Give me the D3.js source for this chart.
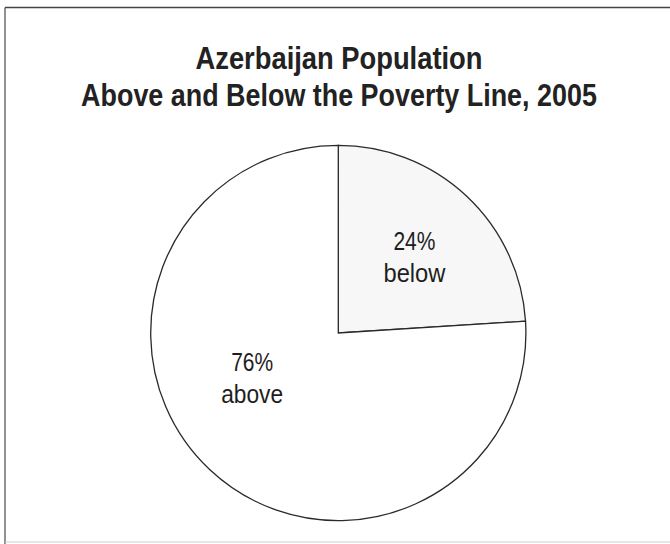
<!DOCTYPE html>
<html>
<head>
<meta charset="utf-8">
<script src="https://cdn.jsdelivr.net/npm/d3@7"></script>
<style>
  html, body { margin: 0; padding: 0; background: #fff; }
  svg { display: block; }
</style>
</head>
<body>
<svg id="chart" width="670" height="544"></svg>
<script>
// ---- data ----
const titleLines = ["Azerbaijan Population", "Above and Below the Poverty Line, 2005"];
const categories = ["below", "above"];
const values = [24, 76];
const percentLabels = ["24%", "76%"];

// ---- layout ----
const W = 670, H = 544;
const cx = 338.3, cy = 333, R = 187.6;
const labelR = 101;
const labelShift = { below: [7, 7], above: [-17, -20] };
const fills = { below: "#f7f7f7", above: "#ffffff" };

const svg = d3.select("#chart");
svg.append("rect").attr("width", W).attr("height", H).attr("fill", "#fff");

// frame
svg.append("line").attr("x1", 5).attr("x2", W).attr("y1", 7.5).attr("y2", 7.5)
  .attr("stroke", "#444").attr("stroke-width", 1.6);
svg.append("line").attr("x1", 5).attr("x2", 5).attr("y1", 7.5).attr("y2", H)
  .attr("stroke", "#555").attr("stroke-width", 1.3);
svg.append("line").attr("x1", 5).attr("x2", W).attr("y1", 542).attr("y2", 542)
  .attr("stroke", "#ccc").attr("stroke-width", 1);

// condensed text helper: horizontally scale a text to a target width
function condense(sel, targetWidth) {
  sel.each(function(d, i) {
    const t = d3.select(this);
    const w = this.getComputedTextLength();
    const tw = typeof targetWidth === "function" ? targetWidth(d, i) : targetWidth;
    const k = Math.min(1, tw / w);
    const x = +t.attr("data-x"), y = +t.attr("data-y");
    t.attr("x", 0).attr("y", 0)
      .attr("transform", `translate(${x},${y}) scale(${k},1)`);
  });
}

// title
const titleWidths = [287, 516];
const titleBaselines = [68.5, 105.5];
svg.selectAll("text.title").data(titleLines).join("text")
  .attr("class", "title")
  .attr("data-x", 339).attr("data-y", (d, i) => titleBaselines[i])
  .attr("text-anchor", "middle")
  .attr("font-family", "'Liberation Sans Narrow', 'Arial Narrow', 'Liberation Sans', sans-serif")
  .attr("font-weight", "bold")
  .attr("font-size", 31)
  .attr("fill", "#222")
  .text(d => d)
  .call(condense, (d, i) => titleWidths[i]);

// pie
const data = categories.map((c, i) => ({ cat: c, value: values[i], label: percentLabels[i] }));
const pie = d3.pie().value(d => d.value).sort(null).startAngle(0).endAngle(2 * Math.PI);
const arcs = pie(data);
const arc = d3.arc().innerRadius(0).outerRadius(R);
const labelArc = d3.arc().innerRadius(labelR).outerRadius(labelR);

const g = svg.append("g").attr("transform", `translate(${cx},${cy})`);
g.selectAll("path").data(arcs).join("path")
  .attr("d", arc)
  .attr("fill", d => fills[d.data.cat])
  .attr("stroke", "#2a2a2a")
  .attr("stroke-width", 1.3)
  .attr("stroke-linejoin", "miter");

const lg = g.selectAll("g.lbl").data(arcs).join("g")
  .attr("class", "lbl")
  .attr("transform", d => {
    const [x, y] = labelArc.centroid(d);
    const s = labelShift[d.data.cat];
    return `translate(${x + s[0]},${y + s[1]})`;
  });
const pctText = lg.append("text").attr("data-x", 0).attr("data-y", -16).text(d => d.data.label);
const catText = lg.append("text").attr("data-x", 0).attr("data-y", 16).text(d => d.data.cat);
lg.selectAll("text")
  .attr("text-anchor", "middle")
  .attr("font-family", "'Liberation Sans', Arial, sans-serif")
  .attr("font-size", 25)
  .attr("fill", "#1e1e1e");
pctText.call(condense, 42);
catText.call(condense, 62);
</script>
</body>
</html>
